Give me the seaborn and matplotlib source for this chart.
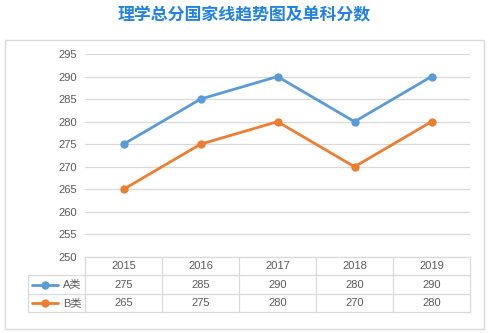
import matplotlib
matplotlib.use("Agg")
import matplotlib.pyplot as plt
import seaborn as sns
import pandas as pd
from matplotlib.patches import Rectangle
from matplotlib.lines import Line2D

years = ["2015", "2016", "2017", "2018", "2019"]
series_names = ["A类", "B类"]
scores_a = [275, 285, 290, 280, 290]
scores_b = [265, 275, 280, 270, 280]
y_ticks = [250, 255, 260, 265, 270, 275, 280, 285, 290, 295]
title = "理学总分国家线趋势图及单科分数"

colors = ["#5B9BD5", "#ED7D31"]
grid_color = "#D9D9D9"
text_color = "#595959"

sns.set_theme(style="white")
plt.rcParams["font.family"] = ["Liberation Sans", "Noto Sans CJK SC", "DejaVu Sans"]

W, H = 490, 333
fig = plt.figure(figsize=(W / 100, H / 100), dpi=100)
fig.patch.set_facecolor("white")


def fx(px):
    return px / W


def fy(py):
    return 1 - py / H


# outer chart border
fig.patches.append(Rectangle((fx(5), fy(329)), fx(484) - fx(5), fy(40) - fy(329),
                             transform=fig.transFigure, fill=False,
                             edgecolor=grid_color, linewidth=1.0))

fig.text(fx(244), fy(15), title, ha="center", va="center", fontsize=12.2,
         fontweight="bold", color="#2281E6",
         family=["Noto Sans CJK SC", "DejaVu Sans"])

# main plot area
left_px, right_px, top_px, bottom_px = 85, 470, 54, 257
ax = fig.add_axes([fx(left_px), fy(bottom_px), fx(right_px) - fx(left_px),
                   fy(top_px) - fy(bottom_px)])

df = pd.DataFrame({
    "pos": list(range(len(years))) * 2,
    "score": scores_a + scores_b,
    "series": [series_names[0]] * len(years) + [series_names[1]] * len(years),
})
sns.lineplot(data=df, x="pos", y="score", hue="series", palette=colors,
             marker="o", markersize=6, markeredgewidth=0, linewidth=2.0,
             legend=False, ax=ax)

ax.set_xlim(-0.5, len(years) - 0.5)
ax.set_ylim(y_ticks[0], y_ticks[-1])
ax.set_yticks(y_ticks)
ax.set_xticks([])
ax.set_xlabel("")
ax.set_ylabel("")
for s in ax.spines.values():
    s.set_visible(False)
ax.yaxis.grid(True, color=grid_color, linewidth=0.9)
ax.set_axisbelow(True)
ax.tick_params(axis="y", length=0, pad=6, labelsize=8, labelcolor=text_color)
for lbl in ax.get_yticklabels():
    lbl.set_fontfamily(["Liberation Sans", "DejaVu Sans"])

# data table below the plot, aligned with the category positions
tab_left_px, tab_top_px, tab_bottom_px = 28, 257, 312
unit = (right_px - left_px) / len(years)
tax = fig.add_axes([fx(tab_left_px), fy(tab_bottom_px), fx(right_px) - fx(tab_left_px),
                    fy(tab_top_px) - fy(tab_bottom_px)])
tax.set_xlim(-0.5 - (left_px - tab_left_px) / unit, len(years) - 0.5)
tax.set_ylim(3, 0)
tax.axis("off")
x0, x_lab = tax.get_xlim()[0], -0.5
x_end = len(years) - 0.5
lw = 0.9
# horizontal rules
tax.plot([x_lab, x_end], [0, 0], color=grid_color, lw=lw, clip_on=False)
for r in (1, 2, 3):
    tax.plot([x0, x_end], [r, r], color=grid_color, lw=lw, clip_on=False)
# vertical rules
tax.plot([x0, x0], [1, 3], color=grid_color, lw=lw, clip_on=False)
for k in range(len(years) + 1):
    tax.plot([k - 0.5, k - 0.5], [0, 3], color=grid_color, lw=lw, clip_on=False)

for i, yr in enumerate(years):
    tax.text(i, 0.5, yr, ha="center", va="center", fontsize=8, color=text_color)
for r, (name, vals, col) in enumerate(zip(series_names, [scores_a, scores_b], colors)):
    row_y = r + 1.5
    for i, v in enumerate(vals):
        tax.text(i, row_y, str(v), ha="center", va="center", fontsize=8,
                 color=text_color)
    # legend key inside the row header
    kx0 = x0 + 4 / unit
    kx1 = x0 + 30 / unit
    tax.add_line(Line2D([kx0, kx1], [row_y, row_y], color=col, lw=2.0,
                        clip_on=False))
    tax.plot([(kx0 + kx1) / 2], [row_y], marker="o", color=col, markersize=6,
             markeredgewidth=0, clip_on=False)
    tax.text(x0 + 35 / unit, row_y, name, ha="left", va="center", fontsize=8,
             color=text_color,
             family=["Liberation Sans", "Noto Sans CJK SC", "DejaVu Sans"])

fig.savefig("out.png", dpi=100)
